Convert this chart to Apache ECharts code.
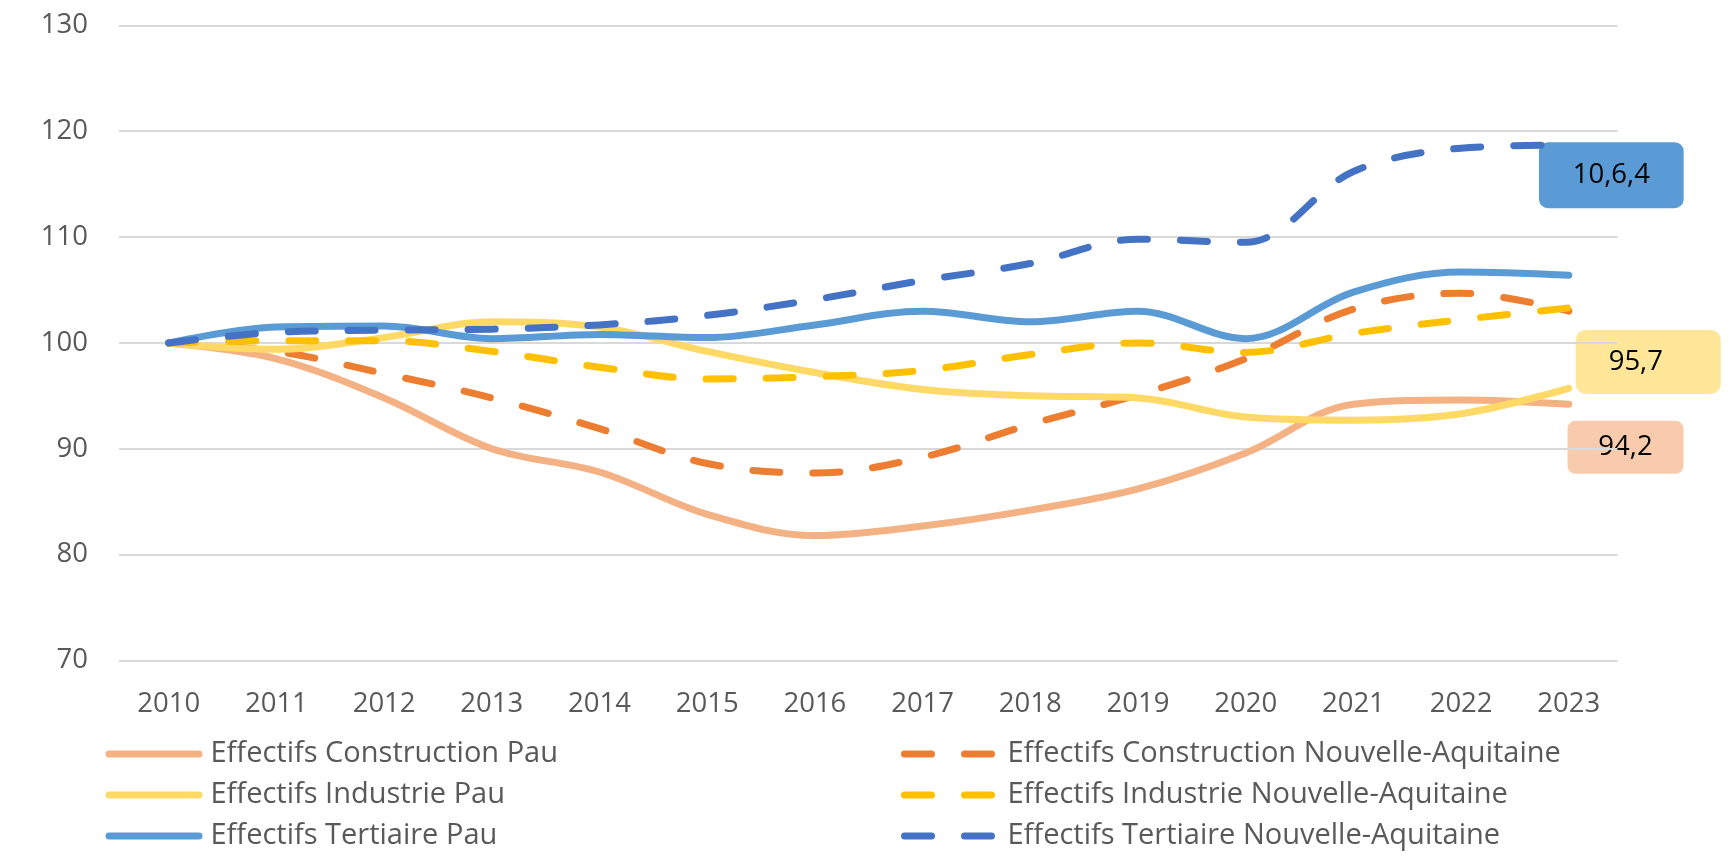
<!DOCTYPE html>
<html><head><meta charset="utf-8">
<script src="https://cdn.jsdelivr.net/npm/echarts@6/dist/echarts.min.js"></script>
<style>html,body{margin:0;padding:0;background:#fff}#c{width:1729px;height:865px}</style>
</head><body><div id="c"></div>
<script>
const years = ['2010','2011','2012','2013','2014','2015','2016','2017','2018','2019','2020','2021','2022','2023'];
const constructionPau = [100, 98.5, 94.8, 90.0, 87.8, 83.8, 81.8, 82.7, 84.2, 86.2, 89.6, 94.2, 94.6, 94.2];
const constructionNA  = [100, 99.2, 97.1, 94.8, 91.9, 88.6, 87.7, 89.2, 92.3, 95.1, 98.5, 103.2, 104.7, 103.0];
const industriePau    = [100, 99.4, 100.5, 102.0, 101.5, 99.2, 97.2, 95.6, 95.0, 94.8, 93.0, 92.7, 93.3, 95.7];
const industrieNA     = [100, 100.2, 100.2, 99.2, 97.7, 96.6, 96.8, 97.4, 98.9, 100.0, 99.1, 100.9, 102.2, 103.3];
const tertiairePau    = [100, 101.5, 101.6, 100.4, 100.8, 100.5, 101.7, 103.0, 102.0, 103.0, 100.4, 104.8, 106.7, 106.4];
const tertiaireNA     = [100, 101.0, 101.2, 101.3, 101.7, 102.6, 104.1, 105.9, 107.5, 109.8, 109.5, 116.2, 118.4, 118.7];
const yMin = 70, yMax = 130, yStep = 10;
const names = ['Effectifs Construction Pau','Effectifs Construction Nouvelle-Aquitaine','Effectifs Industrie Pau','Effectifs Industrie Nouvelle-Aquitaine','Effectifs Tertiaire Pau','Effectifs Tertiaire Nouvelle-Aquitaine'];
const labelTexts = ['94,2', '95,7', '10,6,4'];

const FONT = 'Open Sans';
const GRAY = '#595959';
const DASH = [27, 33];
const last = years.length - 1;

function lineSeries(name, data, color, dashed) {
  return {
    name, type: 'line', data, xAxisIndex: 1, yAxisIndex: 1,
    smooth: 0.35, symbol: 'none', showSymbol: false,
    lineStyle: { color, width: 7, type: dashed ? DASH : 'solid', cap: 'round', join: 'round' },
    itemStyle: { color }, z: 2
  };
}
function labelSeries(data, text, bg, offset, width, padding, radius, lh) {
  return {
    type: 'scatter', xAxisIndex: 1, yAxisIndex: 1, z: -1, silent: true,
    symbol: 'circle', symbolSize: 1, itemStyle: { color: 'rgba(0,0,0,0)', opacity: 1 },
    data: [[years[last], data[last]]],
    label: {
      show: true, position: 'inside', offset, formatter: text, opacity: 1,
      backgroundColor: bg, borderRadius: radius, width, padding,
      lineHeight: lh, fontSize: 27.5, fontFamily: FONT, color: '#000', align: 'center'
    }
  };
}

const chart = echarts.init(document.getElementById('c'), null, { renderer: 'canvas' });
chart.setOption({
  animation: false,
  backgroundColor: '#fff',
  grid: [
    { left: 119, right: 111.5, top: 25.4, height: 635 },
    { left: 168.7, right: 160.2, top: 25.4, height: 635 }
  ],
  xAxis: [
    { gridIndex: 0, type: 'category', data: years, show: false },
    { gridIndex: 1, type: 'category', data: years, boundaryGap: false,
      axisLine: { show: false }, axisTick: { show: false }, splitLine: { show: false },
      axisLabel: { margin: 30, fontSize: 27.5, fontFamily: FONT, color: GRAY } }
  ],
  yAxis: [
    { gridIndex: 0, type: 'value', min: yMin, max: yMax, interval: yStep,
      axisLine: { show: false }, axisTick: { show: false },
      splitLine: { show: true, lineStyle: { color: '#D9D9D9', width: 2 } },
      axisLabel: { margin: 31, fontSize: 27.5, fontFamily: FONT, color: GRAY } },
    { gridIndex: 1, type: 'value', min: yMin, max: yMax, interval: yStep, show: false, splitLine: { show: false } }
  ],
  legend: [
    { data: [names[0], names[2], names[4]], orient: 'vertical', left: 105.5, top: 739, padding: 0,
      itemWidth: 90, itemHeight: 8, itemGap: 11, selectedMode: false,
      itemStyle: { opacity: 0 }, lineStyle: { width: 7 },
      textStyle: { fontSize: 29, fontFamily: FONT, color: GRAY, lineHeight: 30, padding: [0, 0, 0, 6.5] } },
    { data: [names[1], names[3], names[5]], orient: 'vertical', left: 901, top: 739, padding: 0,
      itemWidth: 88, itemHeight: 8, itemGap: 11, selectedMode: false,
      itemStyle: { opacity: 0 }, lineStyle: { width: 7 },
      textStyle: { fontSize: 29, fontFamily: FONT, color: GRAY, lineHeight: 30, padding: [0, 0, 0, 10] } }
  ],
  series: [
    lineSeries(names[0], constructionPau, '#F4B183', false),
    lineSeries(names[1], constructionNA, '#ED7D31', true),
    lineSeries(names[2], industriePau, '#FFD966', false),
    lineSeries(names[3], industrieNA, '#FFC000', true),
    lineSeries(names[4], tertiairePau, '#5B9BD5', false),
    lineSeries(names[5], tertiaireNA, '#4472C4', true),
    labelSeries(constructionPau, labelTexts[0], '#F8CBAD', [56.7, 43], 116, [35.5, 0, 1.5, 0], 8, 16),
    labelSeries(industriePau, labelTexts[1], '#FFE699', [79.5, -26.5], 120, [30, 25, 4, 0], 10, 30),
    labelSeries(tertiairePau, labelTexts[2], '#5B9BD5', [42.5, -100], 144.7, [27, 0, 9, 0], 9, 30)
  ]
});
</script></body></html>
